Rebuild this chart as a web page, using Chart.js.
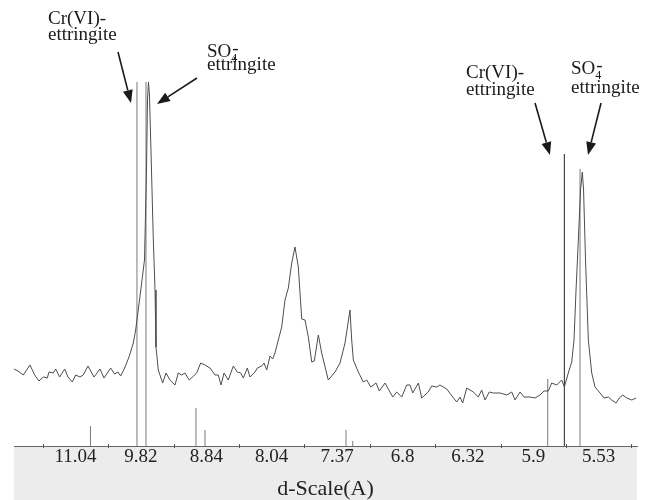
<!DOCTYPE html>
<html lang="en">
<head>
    <meta charset="UTF-8">
    <title>XRD pattern - Cr(VI) / SO4 ettringite</title>
    <script src="https://cdn.jsdelivr.net/npm/chart.js@4.4.1/dist/chart.umd.min.js"></script>
    <style>
        html, body { margin: 0; padding: 0; background: #fff; }
        #wrap { width: 650px; height: 500px; position: relative; }
    </style>
</head>
<body>
    <div id="wrap"><canvas id="xrd"></canvas></div>

    <script>
        // Measured scan: position in 2-theta (deg, Cu K-alpha) and intensity (arbitrary units)
        const twoTheta = [
            7.060, 7.121, 7.202, 7.304, 7.376, 7.442, 7.508, 7.569, 7.595, 7.661,
            7.697, 7.758, 7.835, 7.885, 7.951, 8.003, 8.069, 8.119, 8.191, 8.283,
            8.375, 8.436, 8.538, 8.599, 8.650, 8.691, 8.752, 8.818, 8.884, 8.920,
            8.979, 9.055, 9.086, 9.101, 9.116, 9.131, 9.162, 9.190, 9.216, 9.231,
            9.266, 9.333, 9.384, 9.445, 9.521, 9.572, 9.624, 9.674, 9.740, 9.853,
            9.914, 9.980, 10.057, 10.133, 10.183, 10.225, 10.271, 10.336, 10.413, 10.474,
            10.526, 10.566, 10.627, 10.668, 10.745, 10.780, 10.847, 10.882, 10.924, 10.974,
            11.015, 11.050, 11.101, 11.153, 11.203, 11.254, 11.306, 11.356, 11.407, 11.459,
            11.509, 11.560, 11.612, 11.651, 11.713, 11.764, 11.865, 11.968, 12.044, 12.121,
            12.197, 12.223, 12.248, 12.324, 12.401, 12.453, 12.514, 12.595, 12.645, 12.732,
            12.850, 12.911, 12.988, 13.064, 13.115, 13.156, 13.242, 13.294, 13.394, 13.446,
            13.523, 13.573, 13.676, 13.768, 13.829, 13.879, 13.920, 13.982, 14.083, 14.159,
            14.211, 14.261, 14.327, 14.388, 14.491, 14.593, 14.670, 14.720, 14.797, 14.858,
            14.950, 15.026, 15.102, 15.164, 15.229, 15.281, 15.358, 15.434, 15.474, 15.535,
            15.587, 15.622, 15.653, 15.688, 15.722, 15.749, 15.768, 15.798, 15.841, 15.893,
            15.943, 16.020, 16.081, 16.147, 16.199, 16.265, 16.315, 16.367, 16.428, 16.505,
            16.570
        ];
        const intensity = [
            77, 75, 71, 81, 71, 65, 69, 68, 74, 73,
            77, 69, 77, 69, 64, 71, 69, 71, 80, 69,
            77, 68, 78, 72, 74, 70, 78, 89, 103, 116,
            146, 186, 276, 346, 364, 351, 276, 206, 156, 99,
            76, 63, 73, 66, 61, 73, 71, 73, 66, 73,
            83, 81, 78, 71, 71, 61, 73, 66, 80, 74,
            73, 68, 78, 69, 74, 78, 80, 83, 76, 90,
            87, 93, 106, 119, 146, 158, 183, 199, 179, 127,
            126, 109, 84, 85, 111, 93, 66, 74, 83, 103,
            136, 106, 86, 74, 64, 66, 59, 63, 55, 63,
            49, 54, 49, 61, 61, 53, 63, 48, 54, 60,
            59, 61, 57, 49, 44, 49, 43, 58, 54, 49,
            56, 46, 54, 53, 53, 51, 54, 46, 54, 49,
            49, 48, 51, 55, 55, 63, 61, 66, 59, 73,
            84, 106, 156, 206, 256, 274, 256, 186, 106, 73,
            59, 53, 48, 49, 46, 43, 48, 51, 48, 46,
            48
        ];

        // Reference stick patterns (position in 2-theta, relative height)
        const stickTheta = [8.229, 8.940, 9.078, 9.842, 9.980, 12.136, 12.239, 15.220, 15.714];
        const stickHeight = [20, 364, 364, 38, 16, 16, 5, 67, 277];
        const darkStickTheta = [15.474];
        const darkStickHeight = [292];

        // Axis is linear in 2-theta but labelled with d-spacing
        const tickDegrees = [8, 9, 10, 11, 12, 13, 14, 15, 16];
        const dLabels = ['11.04', '9.82', '8.84', '8.04', '7.37', '6.8', '6.32', '5.9', '5.53'];
        const minorTicks = [7.5, 8.5, 9.5, 10.5, 11.5, 12.5, 13.5, 14.5, 15.5, 16.5];

        const serif = '"Liberation Serif", "Times New Roman", serif';

        // Labels + arrows, anchored in data units
        const notes = [
            { x: 7.58, lines: [[422, 'Cr(VI)-'], [406, 'ettringite']], from: [8.650, 394], to: [8.849, 343] },
            { x: 10.011, lines: [[389, 'SO4-'], [376, 'ettringite']], from: [9.858, 368], to: [9.246, 342] },
            { x: 13.971, lines: [[368, 'Cr(VI)-'], [351, 'ettringite']], from: [15.026, 343], to: [15.254, 291] },
            { x: 15.576, lines: [[372, 'SO4-'], [353, 'ettringite']], from: [16.035, 343], to: [15.836, 291] }
        ];

        function sticks(pos, h) {
            return pos.flatMap((x, i) => [{ x: x, y: 0 }, { x: x, y: h[i] }, { x: x, y: null }]);
        }

        // grey band under the plot + minor tick marks
        const axisBand = {
            id: 'axisBand',
            beforeDraw(chart) {
                const { ctx, chartArea } = chart;
                ctx.save();
                ctx.fillStyle = '#ececec';
                ctx.fillRect(chartArea.left, chartArea.bottom, chartArea.right - chartArea.left, chart.height - chartArea.bottom);
                ctx.restore();
            },
            afterDraw(chart) {
                const { ctx, chartArea } = chart;
                const xs = chart.scales.x;
                ctx.save();
                ctx.strokeStyle = '#555';
                ctx.lineWidth = 1;
                minorTicks.forEach(v => {
                    const px = Math.round(xs.getPixelForValue(v)) + 0.5;
                    ctx.beginPath();
                    ctx.moveTo(px, chartArea.bottom - 2);
                    ctx.lineTo(px, chartArea.bottom + 2);
                    ctx.stroke();
                });
                ctx.restore();
            }
        };

        function drawLine(ctx, text, x, y) {
            if (text === 'SO4-') {
                ctx.font = '19px ' + serif;
                ctx.fillText('SO', x, y);
                const w = ctx.measureText('SO').width;
                ctx.font = '12px ' + serif;
                ctx.fillText('4', x + w, y + 5);
                ctx.font = '19px ' + serif;
                ctx.fillText('-', x + w + 1, y - 3);
            } else {
                ctx.font = '19px ' + serif;
                ctx.fillText(text, x, y);
            }
        }

        const notesPlugin = {
            id: 'notes',
            afterDatasetsDraw(chart) {
                const { ctx } = chart;
                const xs = chart.scales.x, ys = chart.scales.y;
                ctx.save();
                ctx.fillStyle = '#1a1a1a';
                ctx.strokeStyle = '#1a1a1a';
                ctx.textBaseline = 'alphabetic';
                ctx.textAlign = 'left';
                notes.forEach(n => {
                    const lx = xs.getPixelForValue(n.x);
                    n.lines.forEach(([yv, t]) => drawLine(ctx, t, lx, ys.getPixelForValue(yv)));

                    const x1 = xs.getPixelForValue(n.from[0]), y1 = ys.getPixelForValue(n.from[1]);
                    const x2 = xs.getPixelForValue(n.to[0]), y2 = ys.getPixelForValue(n.to[1]);
                    const ang = Math.atan2(y2 - y1, x2 - x1);
                    const head = 13, half = 5;
                    const bx = x2 - head * Math.cos(ang), by = y2 - head * Math.sin(ang);
                    ctx.lineWidth = 1.6;
                    ctx.beginPath();
                    ctx.moveTo(x1, y1);
                    ctx.lineTo(bx, by);
                    ctx.stroke();
                    ctx.beginPath();
                    ctx.moveTo(x2, y2);
                    ctx.lineTo(bx + half * Math.sin(ang), by - half * Math.cos(ang));
                    ctx.lineTo(bx - half * Math.sin(ang), by + half * Math.cos(ang));
                    ctx.closePath();
                    ctx.fill();
                });
                ctx.restore();
            }
        };

        new Chart(document.getElementById('xrd'), {
            type: 'line',
            data: {
                datasets: [
                    {
                        label: 'scan',
                        data: twoTheta.map((x, i) => ({ x: x, y: intensity[i] })),
                        borderColor: '#4d4d4d',
                        borderWidth: 1,
                        pointRadius: 0,
                        tension: 0
                    },
                    {
                        label: 'reference',
                        data: sticks(stickTheta, stickHeight),
                        borderColor: '#7a7a7a',
                        borderWidth: 1,
                        pointRadius: 0,
                        spanGaps: false
                    },
                    {
                        label: 'Cr(VI) reference',
                        data: sticks(darkStickTheta, darkStickHeight),
                        borderColor: '#222',
                        borderWidth: 1,
                        pointRadius: 0,
                        spanGaps: false
                    }
                ]
            },
            options: {
                responsive: true,
                maintainAspectRatio: false,
                animation: false,
                layout: { padding: { left: 14, right: 13, top: 0, bottom: 0 } },
                plugins: {
                    legend: { display: false },
                    tooltip: { enabled: false }
                },
                scales: {
                    x: {
                        type: 'linear',
                        min: 7.06,
                        max: 16.585,
                        afterBuildTicks: (scale) => {
                            scale.ticks = tickDegrees.map(v => ({ value: v }));
                        },
                        afterFit: (scale) => { scale.height = 54; },
                        grid: { drawOnChartArea: false, drawTicks: false },
                        border: { display: true, color: '#666', width: 1 },
                        ticks: {
                            autoSkip: false,
                            maxRotation: 0,
                            padding: 0,
                            color: '#222',
                            font: { family: serif, size: 19 },
                            callback: (value, index) => dLabels[index]
                        },
                        title: {
                            display: true,
                            text: 'd-Scale(A)',
                            color: '#222',
                            font: { family: serif, size: 22, lineHeight: 1 },
                            padding: { top: 0, bottom: 0 }
                        }
                    },
                    y: {
                        display: false,
                        min: 0,
                        max: 446
                    }
                }
            },
            plugins: [axisBand, notesPlugin]
        });
    </script>
</body>
</html>
